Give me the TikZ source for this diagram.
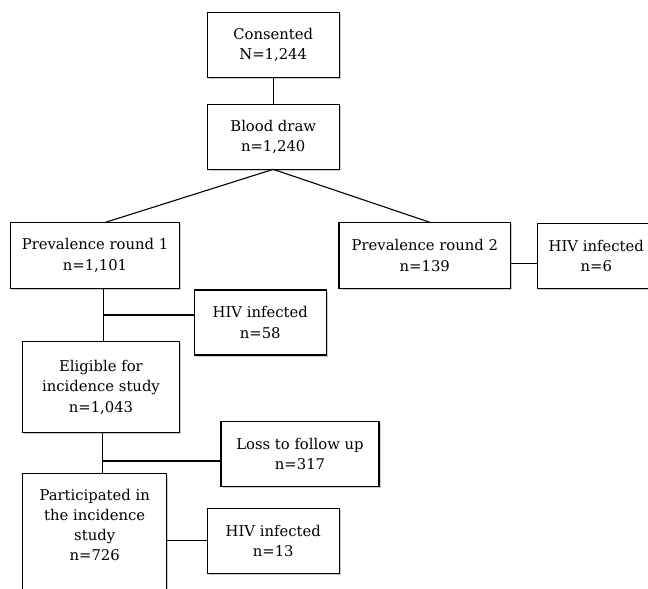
\documentclass[tikz,border=0pt]{standalone}
\usepackage{fontspec}
\setmainfont{DejaVu Serif}
\usetikzlibrary{shadows}
\begin{document}
\begin{tikzpicture}[x=1pt,y=-1pt,
  box/.style={draw, line width=1.1pt, fill=white, align=center, inner sep=0pt, outer sep=0pt,
    font=\fontsize{14.8}{20.3}\selectfont,
    drop shadow={shadow xshift=1.6pt, shadow yshift=-1.6pt, opacity=0.4, fill=black!50}},
  conn/.style={line width=1.1pt}]
\useasboundingbox (0,0) rectangle (648,589);
\clip (0,0) rectangle (648,589);
\node[box, minimum width=131.7pt, minimum height=65pt] (cons) at (273.2,44.8) {Consented\\N=1,244};
\node[box, minimum width=131.7pt, minimum height=65.3pt] (blood) at (273.2,136.7) {Blood draw\\n=1,240};
\node[box, minimum width=168.6pt, minimum height=65.6pt] (pr1) at (95,255.5) {Prevalence round 1\\n=1,101};
\node[box, minimum width=171.7pt, minimum height=65.6pt] (pr2) at (424.8,255.5) {Prevalence round 2\\n=139};
\node[box, minimum width=118pt, minimum height=65pt] (hiv6) at (596.3,255.8) {HIV infected\\n=6};
\node[box, minimum width=131.7pt, minimum height=65pt] (hiv58) at (260.2,322.5) {HIV infected\\n=58};
\node[box, minimum width=156.6pt, minimum height=91pt] (elig) at (101,387.2) {Eligible for\\incidence study\\n=1,043};
\node[box, minimum width=158pt, minimum height=65pt] (loss) at (300,454.2) {Loss to follow up\\n=317};
\node[box, minimum width=131.7pt, minimum height=65pt] (hiv13) at (273.2,540.8) {HIV infected\\n=13};
\node[box, minimum width=144pt, minimum height=160pt, anchor=north] (part) at (94.7,473.3) {};
\node[align=center, inner sep=0pt, font=\fontsize{14.8}{20.3}\selectfont] (parttext) at (94.7,525) {Participated in\\the incidence\\study\\n=726};
\coordinate (j1) at (103.5,315);
\coordinate (j2) at (102.5,461);
\coordinate (j3) at (520,263.3);
\draw[conn] (cons.south) -- (blood.south |- blood.north);
\draw[conn] (blood.south) -- ([xshift=9.3pt]pr1.north);
\draw[conn] (blood.south) -- ([xshift=6.2pt]pr2.north);
\draw[conn] (pr2.east |- j3) -- (hiv6.west |- j3);
\draw[conn] (pr1.south -| j1) -- (elig.north -| j1);
\draw[conn] (j1) -- (j1 -| hiv58.west);
\draw[conn] (elig.south -| j2) -- (part.north -| j2);
\draw[conn] (j2) -- (j2 -| loss.west);
\draw[conn] (part.east |- hiv13.west) -- (hiv13.west);
\end{tikzpicture}
\end{document}
